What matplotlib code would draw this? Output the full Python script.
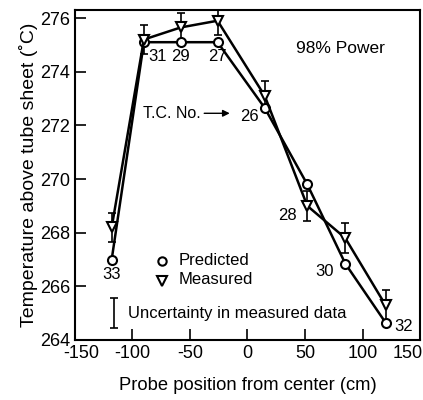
import matplotlib
matplotlib.use("Agg")
import matplotlib.pyplot as plt
import matplotlib.transforms as mtransforms

# Probe positions (cm) and thermocouple numbers
position = [-118, -90, -58, -26, 15, 52, 85, 120]
tc_number = ["33", "31", "29", "27", "26", "28", "30", "32"]

# Temperatures above tube sheet (°C)
predicted = [267.0, 275.1, 275.1, 275.1, 272.65, 269.8, 266.85, 264.65]
measured = [268.2, 275.2, 275.65, 275.9, 273.1, 269.0, 267.8, 265.3]
uncertainty = 0.55

x_ticks = [-150, -100, -50, 0, 50, 100, 150]
y_ticks = [264, 266, 268, 270, 272, 274, 276]

plt.rcParams["font.family"] = ["Liberation Sans", "DejaVu Sans"]
plt.rcParams["axes.unicode_minus"] = False

fig = plt.figure(figsize=(4.23, 4.0), dpi=100)
ax = fig.add_axes([0.177, 0.15, 0.816, 0.825])

ax.errorbar(position, measured, yerr=uncertainty, fmt="none", ecolor="black",
            elinewidth=1.2, capsize=3, capthick=1.2, zorder=2)
ax.plot(position, predicted, color="black", lw=1.8, marker="o", ms=6.5,
        mfc="white", mec="black", mew=1.5, zorder=3)
ax.plot(position, measured, color="black", lw=1.8, marker="v", ms=7.5,
        mfc="white", mec="black", mew=1.5, zorder=3)

ax.set_xlim(-150, 150)
ax.set_ylim(264, 276.3)
ax.set_xticks(x_ticks)
ax.set_yticks(y_ticks)
ax.tick_params(direction="in", length=8, width=1.2, labelsize=13)
for s in ax.spines.values():
    s.set_linewidth(1.5)

# Nudge the end tick labels inward so they stay clear of the corner and edge
fig.canvas.draw()
xlabels = ax.get_xticklabels()
xlabels[0].set_transform(xlabels[0].get_transform() +
                         mtransforms.ScaledTranslation(6 / 100, 0, fig.dpi_scale_trans))
xlabels[-1].set_transform(xlabels[-1].get_transform() +
                          mtransforms.ScaledTranslation(-12 / 100, 0, fig.dpi_scale_trans))

ax.set_xlabel("Probe position from center (cm)", fontsize=13.2, labelpad=11)
ax.set_ylabel("Temperature above tube sheet (\u02daC)", fontsize=14, labelpad=1)

# Thermocouple labels next to each point
label_offsets = {
    "33": (0, -11), "31": (10, -10), "29": (0, -10), "27": (0, -10),
    "26": (-11, -6), "28": (-14, -7), "30": (-15, -6), "32": (13, -3),
}
for x, y, n in zip(position, predicted, tc_number):
    ref_y = measured[tc_number.index(n)] if n == "28" else y
    dx, dy = label_offsets[n]
    ax.annotate(n, (x, ref_y), xytext=(dx, dy), textcoords="offset points",
                ha="center", va="center", fontsize=12)

ax.annotate("", xy=(-13, 272.45), xytext=(-40, 272.45),
            arrowprops=dict(arrowstyle="-|>", color="black", lw=1.0,
                            mutation_scale=10))
ax.text(-41, 272.45, "T.C. No.", ha="right", va="center", fontsize=11.5)

ax.text(81, 274.85, "98% Power", ha="center", va="center", fontsize=12.5)

# Legend drawn by hand
ax.plot([-74], [266.95], marker="o", ms=6, mfc="white", mec="black", mew=1.5)
ax.text(-60, 266.95, "Predicted", ha="left", va="center", fontsize=12)
ax.plot([-74], [266.2], marker="v", ms=6.5, mfc="white", mec="black", mew=1.5)
ax.text(-60, 266.25, "Measured", ha="left", va="center", fontsize=12)

ax.errorbar([-116], [265.0], yerr=0.55, fmt="none", ecolor="black",
            elinewidth=1.2, capsize=3, capthick=1.2)
ax.text(-104, 265.0, "Uncertainty in measured data", ha="left", va="center",
        fontsize=12)

fig.savefig("out.png", dpi=100)
